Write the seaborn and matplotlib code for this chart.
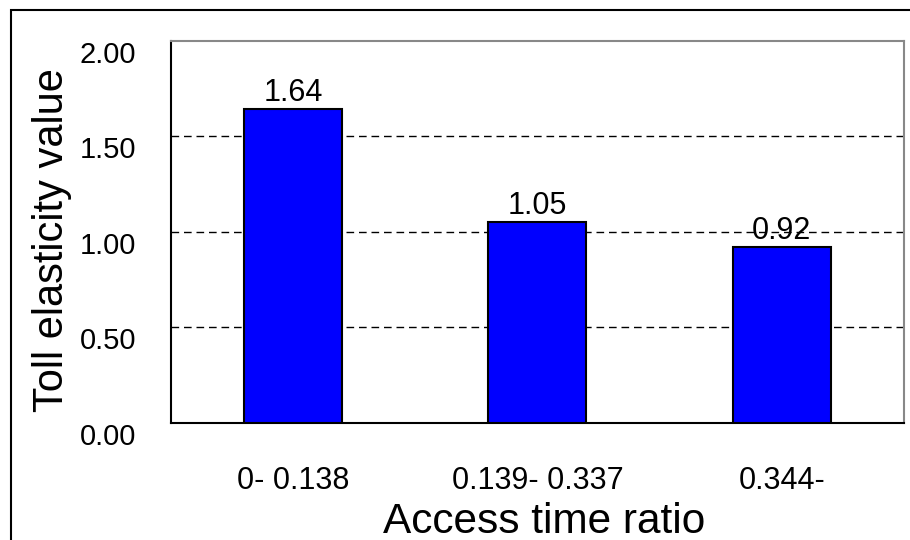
import pandas as pd
import matplotlib
matplotlib.use("Agg")
import matplotlib.pyplot as plt
import seaborn as sns
from matplotlib.patches import Rectangle
from matplotlib.ticker import FixedLocator

# data
ratio_groups = ["0- 0.138", "0.139- 0.337", "0.344-"]
elasticity = [1.64, 1.05, 0.92]
y_ticks = [0.0, 0.5, 1.0, 1.5, 2.0]

df = pd.DataFrame({"group": ratio_groups, "value": elasticity})

sns.set_style("white")
plt.rcParams['font.family'] = ['Liberation Sans', 'DejaVu Sans']
plt.rcParams['text.color'] = 'black'
plt.rcParams['axes.labelcolor'] = 'black'
plt.rcParams['xtick.color'] = 'black'
plt.rcParams['ytick.color'] = 'black'

fig = plt.figure(figsize=(9.1, 5.4), dpi=100)
ax = fig.add_axes([0.1876, 0.2172, 0.8058, 0.7076])

sns.barplot(data=df, x="group", y="value", order=ratio_groups, color="#0000FF",
            saturation=1, width=0.4, edgecolor="black", linewidth=1.5, ax=ax,
            errorbar=None, zorder=3)

ax.set_xlim(-0.5, 2.5)
ax.set_ylim(0, 2.0)
ax.set_yticks(y_ticks)
ax.set_yticklabels([f"{v:.2f}" for v in y_ticks], fontsize=21, va="top")

# gridlines (dashed) behind the bars
ax.set_axisbelow(True)
ax.yaxis.grid(True, color="black", linewidth=1.0, linestyle=(0, (5.5, 3.5)))
gl = ax.yaxis.get_gridlines()
gl[0].set_visible(False)
gl[-1].set_visible(False)

# ticks: inward y ticks, category separators on x
ax.tick_params(axis="y", direction="in", length=7.5, width=1.2, pad=25, colors="black")
ax.tick_params(axis="x", which="major", length=0, pad=31, labelsize=22, colors="black")
ax.xaxis.set_minor_locator(FixedLocator([0.5, 1.5]))
ax.tick_params(axis="x", which="minor", direction="in", length=7.5, width=0.8, color="#444444")

for side in ["left", "bottom"]:
    ax.spines[side].set_color("black")
    ax.spines[side].set_linewidth(1.5)
for side in ["top", "right"]:
    ax.spines[side].set_color("#888888")
    ax.spines[side].set_linewidth(1.5)

# value labels on the bars
for c in ax.containers:
    ax.bar_label(c, fmt="%.2f", padding=0.8, fontsize=22, color="black")

ax.set_xlabel("Access time ratio", fontsize=30.5, va="baseline", color="black")
ax.xaxis.set_label_coords(0.509, -0.288)
ax.set_ylabel("Toll elasticity value", fontsize=30, va="baseline", color="black")
ax.yaxis.set_label_coords(-0.1469, 0.478)

# outer frame of the original picture
fig.patches.append(Rectangle((11 / 910, -0.2), 1.2, 1.2 - 10 / 540,
                             transform=fig.transFigure, fill=False,
                             edgecolor="black", linewidth=1.5, clip_on=False))

fig.savefig("out.png", dpi=100)
